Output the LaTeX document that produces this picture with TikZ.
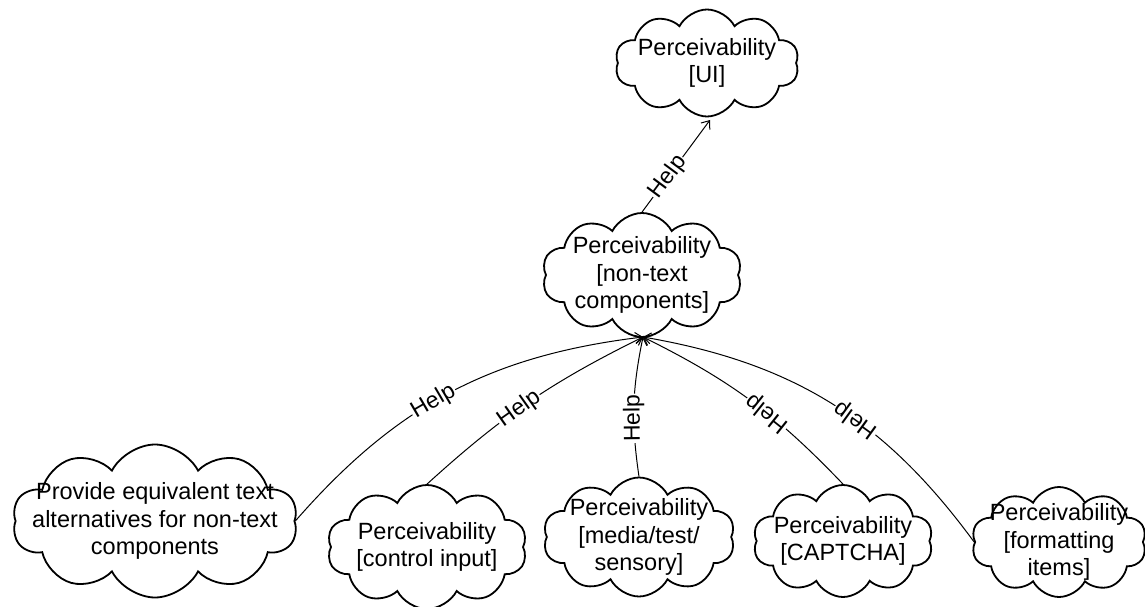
\documentclass[tikz,border=0pt]{standalone}
\usepackage{fontspec}
\setmainfont{Liberation Sans}
\usetikzlibrary{shapes.symbols,arrows.meta}
\begin{document}
\begin{tikzpicture}[x=1pt,y=-1pt,
    puff/.style={cloud, cloud puffs=10, cloud puff arc=125, cloud ignores aspect, draw, line width=1.8pt,
        align=center, inner xsep=-55pt, inner ysep=-20pt,
        font=\fontsize{23.5}{27.5}\selectfont},
    helps/.style={-{Straight Barb[length=7pt,width=11pt]}, line width=1pt},
    tag/.style={fill=white, inner sep=1pt, sloped, allow upside down,
        font=\fontsize{23}{27}\selectfont}]
    \useasboundingbox (0,0) rectangle (1145,607);

    % Upper goals
    \node[puff, minimum width=184pt, minimum height=107pt] (ui) at (707,63) {Perceivability\\{[UI]}};
    \node[puff, minimum width=200pt, minimum height=124pt] (nontext) at (642,275) {Perceivability\\{[non-text}\\components]};
    \coordinate (uibase) at (710,120);
    \coordinate (hub) at (643,337);

    % Lower goals
    \node[puff, minimum width=285pt, minimum height=153pt] (provide) at (155,521) {Provide equivalent text\\alternatives for non-text\\components};
    \node[puff, minimum width=200pt, minimum height=124pt] (control) at (427,547) {Perceivability\\{[control input]}};
    \node[puff, minimum width=192pt, minimum height=119pt] (media) at (639,537) {Perceivability\\{[media/test/}\\sensory]};
    \node[puff, minimum width=180pt, minimum height=112pt] (captcha) at (843,541) {Perceivability\\{[CAPTCHA]}};
    \node[puff, minimum width=175pt, minimum height=110pt] (fmt) at (1059,542) {Perceivability\\{[formatting}\\items]};

    % Help links
    \draw[helps] (nontext.north) -- node[tag, pos=0.38] {Help} (uibase);
    \draw[helps] (provide.east) to[bend left=21] node[tag, pos=0.45] {Help} (hub);
    \draw[helps] (control.north) to[bend left=8] node[tag, pos=0.45] {Help} (hub);
    \draw[helps] (media.north) to[bend left=10] node[tag, pos=0.41] {Help} (hub);
    \draw[helps] (captcha.north) to[bend right=10] node[tag, pos=0.41] {Help} (hub);
    \draw[helps] (fmt.west) to[bend right=22] node[tag, pos=0.42] {Help} (hub);
\end{tikzpicture}
\end{document}
